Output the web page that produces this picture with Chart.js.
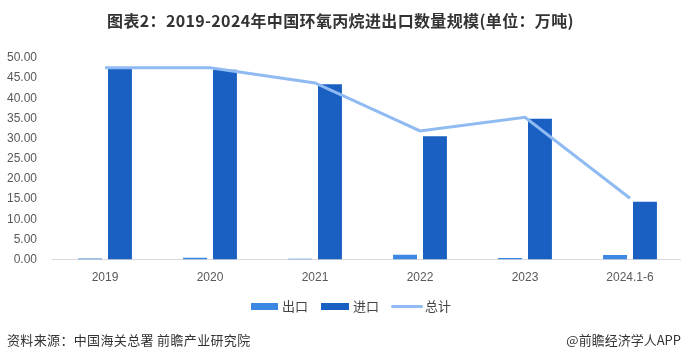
<!DOCTYPE html>
<html>
<head>
<meta charset="utf-8">
<script src="https://cdn.jsdelivr.net/npm/chart.js@4/dist/chart.umd.min.js"></script>
<style>
  html, body { margin: 0; padding: 0; background: #fff; }
  body { width: 681px; height: 360px; position: relative; overflow: hidden; font-family: "Noto Sans CJK SC", sans-serif; }
  #wrap { position: absolute; left: 0; top: 0; width: 684px; height: 360px; }
  #title { position: absolute; left: 0; width: 681px; top: 8px; text-align: center; font-size: 16px; letter-spacing: 0.35px; font-weight: bold; color: #333; line-height: 24px; white-space: nowrap; }
  #legend { position: absolute; top: 297px; left: 251px; height: 18px; font-size: 13px; color: #444; white-space: nowrap; }
  .li { position: absolute; top: 0; line-height: 18px; }
  .sw { position: absolute; }
  #src { position: absolute; left: 7px; top: 331px; font-size: 13px; letter-spacing: 0.35px; color: #333; line-height: 18px; white-space: nowrap; }
  #app { position: absolute; right: 0px; top: 331px; font-size: 13px; color: #333; line-height: 18px; white-space: nowrap; }
</style>
</head>
<body>
<div id="wrap"><canvas id="c" width="684" height="360"></canvas></div>
<div id="title">图表2：2019-2024年中国环氧丙烷进出口数量规模(单位：万吨)</div>
<div id="legend"></div>
<div id="src">资料来源：中国海关总署 前瞻产业研究院</div>
<div id="app">@前瞻经济学人APP</div>
<script>
const categories = ["2019", "2020", "2021", "2022", "2023", "2024.1-6"];
const exportVals = [0.25, 0.45, 0.2, 1.2, 0.35, 1.1];
const importVals = [47.3, 47.1, 43.5, 30.6, 34.9, 14.3];
const totalVals = [47.6, 47.6, 43.8, 31.9, 35.3, 15.2];
const yTicks = [0, 5, 10, 15, 20, 25, 30, 35, 40, 45, 50];
const seriesNames = ["出口", "进口", "总计"];
const colors = ["#3b87e3", "#1a60c2", "#8fbaf2"];

// HTML legend
const legend = document.getElementById('legend');
const items = [
  { name: seriesNames[0], color: colors[0], x: 0, w: 27, h: 7, tx: 31, type: 'box' },
  { name: seriesNames[1], color: colors[1], x: 70, w: 28, h: 7, tx: 102, type: 'box' },
  { name: seriesNames[2], color: colors[2], x: 140, w: 32, h: 3, tx: 174, type: 'line' }
];
items.forEach(it => {
  const sw = document.createElement('div');
  sw.className = 'sw';
  sw.style.left = it.x + 'px';
  sw.style.width = it.w + 'px';
  sw.style.height = it.h + 'px';
  sw.style.top = (it.type === 'box' ? 6 : 8) + 'px';
  sw.style.background = it.color;
  if (it.type === 'line') sw.style.borderRadius = '2px';
  legend.appendChild(sw);
  const t = document.createElement('div');
  t.className = 'li';
  t.style.left = it.tx + 'px';
  t.textContent = it.name;
  legend.appendChild(t);
});

new Chart(document.getElementById('c'), {
  type: 'bar',
  data: {
    labels: categories,
    datasets: [
      { label: seriesNames[0], data: exportVals, backgroundColor: colors[0], order: 1,
        categoryPercentage: 0.57, barPercentage: 0.8 },
      { label: seriesNames[1], data: importVals, backgroundColor: colors[1], order: 1,
        categoryPercentage: 0.57, barPercentage: 0.8 },
      { type: 'line', label: seriesNames[2], data: totalVals, borderColor: colors[2],
        backgroundColor: colors[2], borderWidth: 3, pointRadius: 0, tension: 0, order: 0, fill: false }
    ]
  },
  options: {
    responsive: false,
    animation: false,
    devicePixelRatio: 1,
    layout: { padding: { top: 58, left: 0, right: 1.5, bottom: 0 } },
    plugins: { legend: { display: false }, tooltip: { enabled: false }, title: { display: false } },
    scales: {
      x: {
        grid: { display: false, drawTicks: false },
        border: { display: true, color: '#d9d9d9', width: 1 },
        ticks: { color: '#595959', font: { family: 'Liberation Sans', size: 12 }, padding: 11, maxRotation: 0 },
        afterFit: s => { s.height = 100.5; }
      },
      y: {
        min: 0, max: 50,
        afterBuildTicks: s => { s.ticks = yTicks.map(v => ({ value: v })); },
        grid: { display: false, drawTicks: false },
        border: { display: false },
        ticks: { color: '#595959', font: { family: 'Liberation Sans', size: 12 }, padding: 15.5,
                 callback: v => Number(v).toFixed(2) },
        afterFit: s => { s.width = 52.5; }
      }
    }
  }
});
</script>
</body>
</html>
